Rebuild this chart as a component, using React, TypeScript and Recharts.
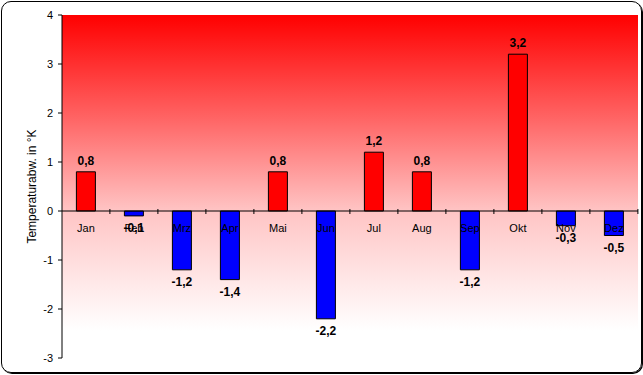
import React from 'react';
import { BarChart, Bar, XAxis, YAxis, CartesianGrid, Cell, LabelList, ReferenceLine } from 'recharts';

const months = ['Jan', 'Feb', 'Mrz', 'Apr', 'Mai', 'Jun', 'Jul', 'Aug', 'Sep', 'Okt', 'Nov', 'Dez'];
const deviations = [0.8, -0.1, -1.2, -1.4, 0.8, -2.2, 1.2, 0.8, -1.2, 3.2, -0.3, -0.5];
const yTicks = [-3, -2, -1, 0, 1, 2, 3, 4];

const data = months.map((month, i) => ({ month, value: deviations[i] }));

const W = 643;
const H = 375;
const margin = { top: 15, right: 5, bottom: 17, left: 0 };
const yAxisWidth = 62;
const bandWidth = (W - margin.left - margin.right - yAxisWidth) / months.length;
const font = '"Liberation Sans", Arial, sans-serif';

const fmt = (v: number) => String(v).replace('.', ',');

// month names + category ticks sit on the zero line
const MonthLabel = (props: any) => {
  const { x, y, width, height, index } = props;
  const cx = x + width / 2;
  const zero = deviations[index] >= 0 ? Math.max(y, y + height) : Math.min(y, y + height);
  const edge = cx + bandWidth / 2;
  return (
    <g>
      <line x1={edge} x2={edge} y1={zero - 2} y2={zero + 3} stroke="#000" strokeWidth={1} />
      <text x={cx} y={zero + 21} textAnchor="middle" fontSize={11} fontFamily={font} fill="#000">
        {months[index]}
      </text>
    </g>
  );
};

const ValueLabel = (props: any) => {
  const { x, y, width, height, index } = props;
  const v = deviations[index];
  const cx = x + width / 2;
  const end = v >= 0 ? Math.min(y, y + height) : Math.max(y, y + height);
  return (
    <text
      x={cx}
      y={v >= 0 ? end - 7 : end + 16}
      textAnchor="middle"
      fontSize={12}
      fontWeight="bold"
      fontFamily={font}
      fill="#000"
    >
      {fmt(v)}
    </text>
  );
};

const AxisTitle = (props: any) => {
  const vb = props.viewBox || {};
  const cy = vb.y + vb.height / 2;
  const tx = 36;
  return (
    <text
      x={tx}
      y={cy}
      transform={`rotate(-90, ${tx}, ${cy})`}
      textAnchor="middle"
      fontSize={12}
      fontFamily={font}
      fill="#000"
    >
      Temperaturabw. in °K
    </text>
  );
};

export default function App() {
  return (
    <div style={{ position: 'absolute', left: 0, top: 0, width: W, height: H, background: '#fff' }}>
      <div
        style={{
          position: 'absolute',
          left: 1,
          top: 1,
          width: 639,
          height: 370,
          border: '1px solid #000',
          borderRadius: 10,
          boxShadow: '1px 1px 0 #000',
        }}
      />
      <div style={{ position: 'absolute', left: 0, top: 0 }}>
        <BarChart width={W} height={H} data={data} margin={margin} barCategoryGap="30%">
          <defs>
            <linearGradient id="bg" x1="0" y1="0" x2="0" y2="1">
              <stop offset="0%" stopColor="#ff0000" />
              <stop offset="30%" stopColor="#ff6464" />
              <stop offset="57%" stopColor="#ffc4c4" />
              <stop offset="78%" stopColor="#ffe8e8" />
              <stop offset="92%" stopColor="#ffffff" />
            </linearGradient>
          </defs>
          <CartesianGrid horizontal={false} vertical={false} fill="url(#bg)" fillOpacity={1} />
          <XAxis dataKey="month" hide />
          <YAxis
            width={yAxisWidth}
            domain={[-3, 4]}
            ticks={yTicks}
            interval={0}
            tickSize={4}
            tickMargin={5}
            axisLine={{ stroke: '#000' }}
            tickLine={{ stroke: '#000' }}
            tick={{ fill: '#000', fontSize: 11, fontFamily: font }}
            label={<AxisTitle />}
          />
          <ReferenceLine y={0} stroke="#000" strokeWidth={1} ifOverflow="extendDomain" />
          <Bar dataKey="value" stroke="#000" strokeWidth={1} isAnimationActive={false}>
            {data.map((d) => (
              <Cell key={d.month} fill={d.value >= 0 ? '#ff0000' : '#0000ff'} />
            ))}
            <LabelList dataKey="month" content={MonthLabel} />
            <LabelList dataKey="value" content={ValueLabel} />
          </Bar>
        </BarChart>
      </div>
    </div>
  );
}
